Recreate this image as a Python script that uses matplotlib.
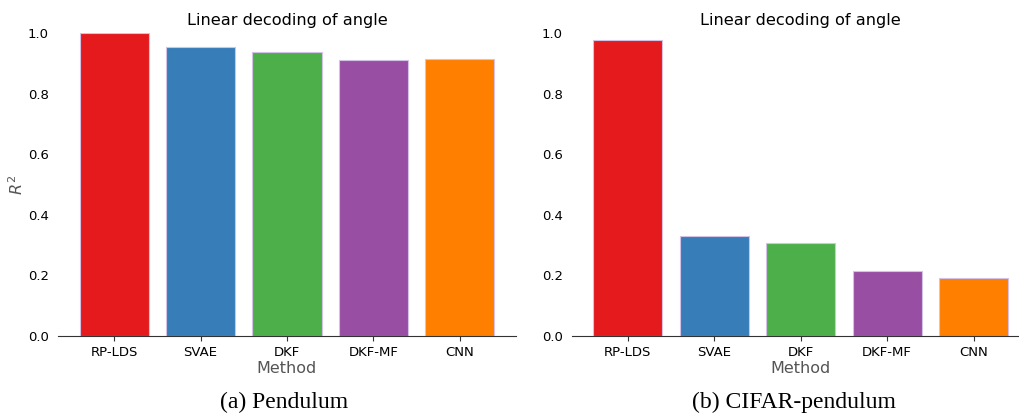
import matplotlib
matplotlib.use('Agg')
import matplotlib.pyplot as plt
import numpy as np

methods = ['RP-LDS', 'SVAE', 'DKF', 'DKF-MF', 'CNN']
r2_pendulum = [1.0, 0.955, 0.936, 0.912, 0.915]
r2_cifar = [0.978, 0.331, 0.307, 0.214, 0.190]
colors = ['#e41a1c', '#377eb8', '#4daf4a', '#984ea3', '#ff7f00']
captions = ['(a) Pendulum', '(b) CIFAR-pendulum']

fig = plt.figure(figsize=(10.19, 4.15), dpi=100)

# axes placed by hand to follow the paper layout (right one runs off the edge)
ax_a = fig.add_axes([58 / 1019, 1 - 336 / 415, 458 / 1019, 303 / 415])
ax_b = fig.add_axes([571.7 / 1019, 1 - 336 / 415, 458 / 1019, 303 / 415])

for ax, vals in [(ax_a, r2_pendulum), (ax_b, r2_cifar)]:
    x = np.arange(len(methods))
    ax.bar(x, vals, width=0.8, color=colors, edgecolor='#d4c2e6', linewidth=0.8)
    ax.set_xlim(-0.65, 4.65)
    ax.set_ylim(0, 1.0)
    ax.set_xticks(x)
    ax.set_xticklabels(methods, fontsize=9.5)
    ax.set_yticks([0.0, 0.2, 0.4, 0.6, 0.8, 1.0])
    ax.set_yticklabels(['%.1f' % t for t in [0.0, 0.2, 0.4, 0.6, 0.8, 1.0]], fontsize=9.5)
    ax.tick_params(axis='y', length=0, pad=6.5)
    ax.tick_params(axis='x', length=3.5, color='#333333', pad=4)
    for s in ['top', 'right', 'left']:
        ax.spines[s].set_visible(False)
    ax.spines['bottom'].set_color('#333333')
    ax.set_xlabel('Method', fontsize=11.5, color='#555555', labelpad=1)
    ax.set_title('Linear decoding of angle', fontsize=11.6, pad=6)

ax_a.set_ylabel('$R^2$', fontsize=11.5, color='#555555')
ax_a.yaxis.set_label_coords(-0.07, 0.5)

fig.text(284 / 1019, 1 - 402 / 415, captions[0], ha='center', va='center',
         family='Liberation Serif', fontsize=17)
fig.text(794 / 1019, 1 - 402 / 415, captions[1], ha='center', va='center',
         family='Liberation Serif', fontsize=17)

fig.savefig('out.png', dpi=100)
